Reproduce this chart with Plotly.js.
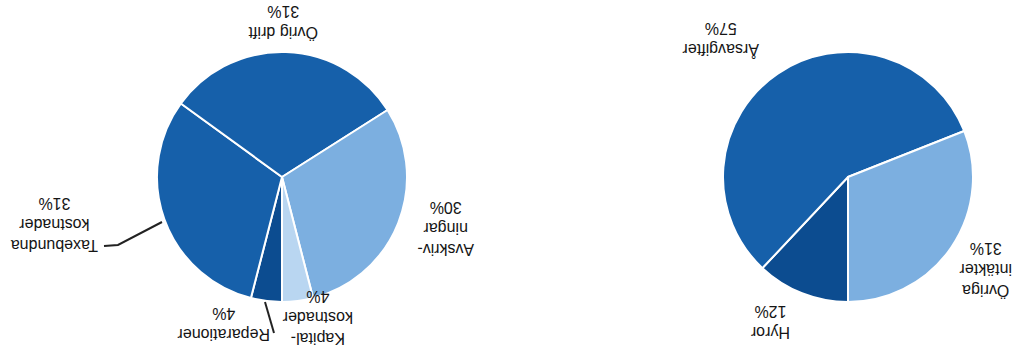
<!DOCTYPE html>
<html>
<head>
<meta charset="utf-8">
<script src="https://cdn.plot.ly/plotly-3.0.1.min.js"></script>
<style>
  html, body { margin: 0; padding: 0; background: #ffffff; }
  #chart { width: 1025px; height: 353px; }
</style>
</head>
<body>
<div id="chart"></div>
<script>
// ---- Data (the scanned page is upside down, so everything is drawn rotated 180°) ----
const incomeLabels   = ['Hyror', 'Årsavgifter', 'Övriga intäkter'];
const incomeText     = ['Hyror', 'Årsavgifter', 'Övriga<br>intäkter'];
const incomeValues   = [12, 57, 31];

const expenseLabels  = ['Reparationer', 'Taxebundna kostnader', 'Övrig drift', 'Avskrivningar', 'Kapitalkostnader'];
const expenseText    = ['Reparationer', 'Taxebundna<br>kostnader', 'Övrig drift', 'Avskriv-<br>ningar', 'Kapital-<br>kostnader'];
const expenseValues  = [4, 31, 31, 30, 4];

// ---- Styling ----
const DARK  = '#1660aa';
const NAVY  = '#0c4c90';
const LIGHT = '#7cafe0';
const PALE  = '#b9d6f1';
const incomeColors  = [NAVY, DARK, LIGHT];
const expenseColors = [NAVY, DARK, DARK, LIGHT, PALE];

const W = 1025, H = 353;
const px = (x) => x / W;
const py = (y) => 1 - y / H;

function domain(cx, cy, r) {
  return { x: [px(cx - r), px(cx + r)], y: [py(cy + r), py(cy - r)] };
}

const expensePie = {
  type: 'pie', labels: expenseLabels, values: expenseValues,
  sort: false, direction: 'clockwise', rotation: 180,
  marker: { colors: expenseColors, line: { color: '#ffffff', width: 2 } },
  textinfo: 'none', hoverinfo: 'label+percent',
  domain: domain(282, 177, 125)
};
const incomePie = {
  type: 'pie', labels: incomeLabels, values: incomeValues,
  sort: false, direction: 'clockwise', rotation: 180,
  marker: { colors: incomeColors, line: { color: '#ffffff', width: 2 } },
  textinfo: 'none', hoverinfo: 'label+percent',
  domain: domain(848, 177, 125)
};

// label positions (pixel centres in the picture)
const expensePos = [[224, 324], [55, 225], [283, 22], [446, 229], [318, 318]];
const incomePos  = [[770, 322], [721, 40], [986, 270]];

const annFont = { family: 'Liberation Sans, Arial, sans-serif', size: 16, color: '#151515' };
const annotations = [];
function addLabels(texts, values, pos) {
  texts.forEach((t, i) => {
    annotations.push({
      xref: 'paper', yref: 'paper',
      x: px(pos[i][0]), y: py(pos[i][1]),
      xanchor: 'center', yanchor: 'middle',
      text: t + '<br>' + values[i] + '%',
      showarrow: false, textangle: 180, align: 'center',
      font: annFont
    });
  });
}
addLabels(expenseText, expenseValues, expensePos);
addLabels(incomeText, incomeValues, incomePos);

const lineStyle = { color: '#222222', width: 2 };
const shapes = [
  { type: 'path', xref: 'paper', yref: 'paper', line: lineStyle,
    path: `M ${px(104)} ${py(246)} L ${px(118)} ${py(245)} L ${px(162)} ${py(222)}` },
  { type: 'line', xref: 'paper', yref: 'paper', line: lineStyle,
    x0: px(265), y0: py(302), x1: px(274), y1: py(333) }
];

const layout = {
  width: W, height: H,
  margin: { l: 0, r: 0, t: 0, b: 0 },
  paper_bgcolor: '#ffffff',
  showlegend: false,
  annotations: annotations,
  shapes: shapes
};

Plotly.newPlot('chart', [expensePie, incomePie], layout, { displayModeBar: false, staticPlot: true });
</script>
</body>
</html>
